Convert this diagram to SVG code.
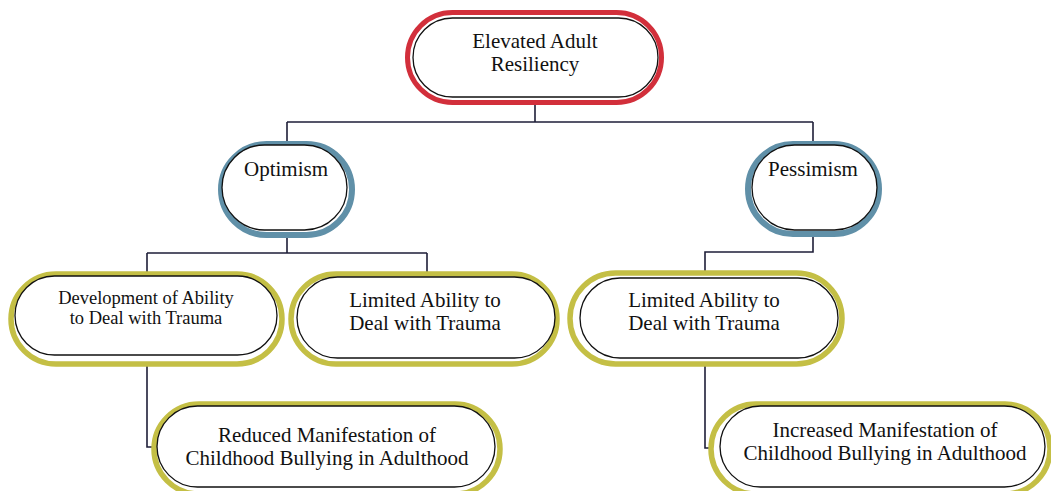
<svg xmlns="http://www.w3.org/2000/svg" width="1051" height="491" viewBox="0 0 1051 491">
<style>
.bg{fill:#ffffff}
.red{fill:#ffffff;stroke:#d22f3b;stroke-width:5}
.blue{fill:#ffffff;stroke:#6090a8;stroke-width:6}
.olive{fill:#ffffff;stroke:#c4bf45;stroke-width:5.5}
.inner{fill:#ffffff;stroke:#111111;stroke-width:1.3}
.conn{fill:none;stroke:#1e1e38;stroke-width:1.6}
text{font-family:"Liberation Serif","Times New Roman",serif;font-size:21px;fill:#111111;text-anchor:middle}
.small{font-size:18.5px}
</style>
<rect class="bg" x="0" y="0" width="1051" height="491"/>
<g id="connectors">
<path class="conn" d="M535 98 V122 M287 122 H813 M287 122 V145 M813 122 V145"/>
<path class="conn" d="M287 230 V253 M147 253 H427 M147 253 V276 M427 253 V277"/>
<path class="conn" d="M813 230 V252 H705 V278"/>
<path class="conn" d="M147 355 V447 H158"/>
<path class="conn" d="M705 358 V448 H720"/>
</g>
<g id="node-elevated">
<rect class="red" x="407.5" y="12.5" width="254" height="90" rx="45"/>
<rect class="inner" x="413" y="18" width="245" height="79" rx="39.5"/>
<text x="535" y="48">Elevated Adult</text>
<text x="535" y="71">Resiliency</text>
</g>
<g id="node-optimism">
<rect class="blue" x="221" y="144" width="131" height="91" rx="45.5"/>
<rect class="inner" x="222" y="145" width="125" height="85" rx="42.5"/>
<text x="286" y="176">Optimism</text>
</g>
<g id="node-pessimism">
<rect class="blue" x="748" y="144" width="131" height="90" rx="45"/>
<rect class="inner" x="752" y="145" width="125" height="85" rx="42.5"/>
<text x="813" y="176">Pessimism</text>
</g>
<g id="node-development">
<rect class="olive" x="11" y="274" width="271" height="90" rx="45"/>
<rect class="inner" x="15" y="276" width="262" height="79" rx="39.5"/>
<text class="small" x="146" y="304">Development of Ability</text>
<text class="small" x="146" y="324">to Deal with Trauma</text>
</g>
<g id="node-limited-optimism">
<rect class="olive" x="291" y="274" width="266" height="90" rx="45"/>
<rect class="inner" x="297" y="277" width="258" height="81" rx="40.5"/>
<text x="425" y="307">Limited Ability to</text>
<text x="425" y="330">Deal with Trauma</text>
</g>
<g id="node-limited-pessimism">
<rect class="olive" x="570" y="273" width="272" height="91" rx="45.5"/>
<rect class="inner" x="580" y="278" width="258" height="80" rx="40"/>
<text x="704" y="307">Limited Ability to</text>
<text x="704" y="330">Deal with Trauma</text>
</g>
<g id="node-reduced">
<rect class="olive" x="154" y="404" width="346" height="90" rx="45"/>
<rect class="inner" x="157" y="406" width="338" height="81" rx="40.5"/>
<text x="327" y="442">Reduced Manifestation of</text>
<text x="327" y="465">Childhood Bullying in Adulthood</text>
</g>
<g id="node-increased">
<rect class="olive" x="711" y="404" width="339" height="90" rx="45"/>
<rect class="inner" x="720" y="406" width="325" height="81" rx="40.5"/>
<text x="885" y="437">Increased Manifestation of</text>
<text x="885" y="460">Childhood Bullying in Adulthood</text>
</g>
</svg>
